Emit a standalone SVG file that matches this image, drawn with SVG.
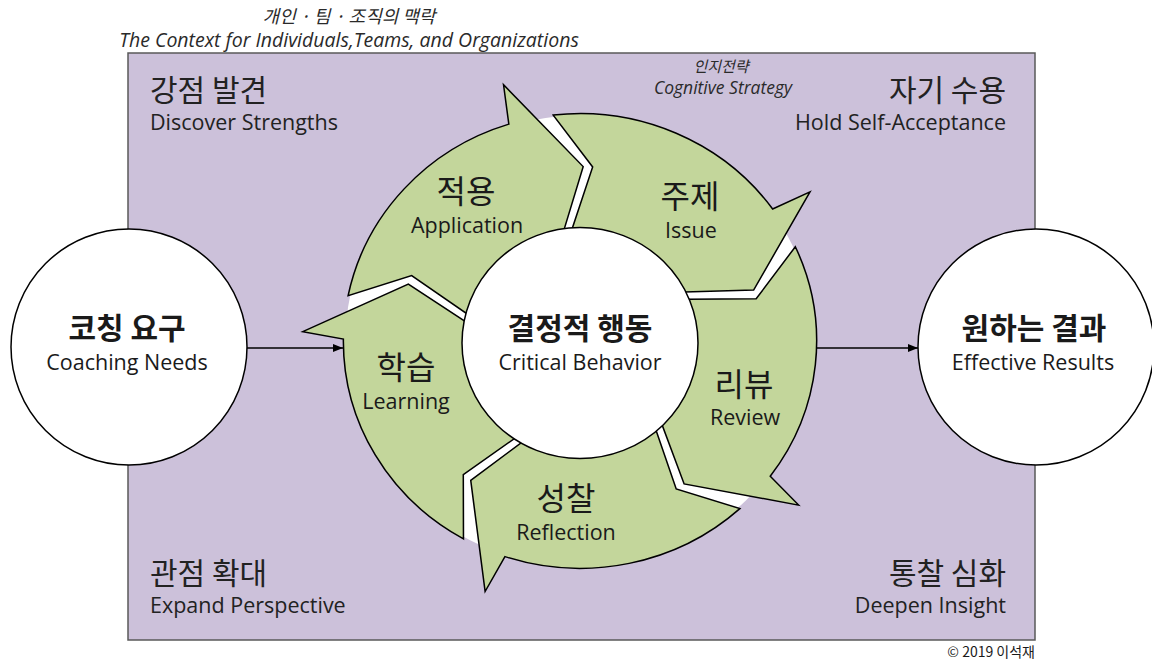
<svg xmlns="http://www.w3.org/2000/svg" width="1152" height="660" viewBox="0 0 1152 660">
<style>
.kr{font-family:"Noto Sans CJK KR",sans-serif;fill:#1a1a1a}
.en{font-family:"Open Sans","Noto Sans",sans-serif;fill:#1a1a1a}
.ring{font-size:32px}
.ringen{font-size:21.5px}
.bold{font-weight:bold}
.corner{font-size:30px;fill:#222}
.corneren{font-size:21.5px;fill:#222}
.arrow{fill:#c3d69b;stroke:#000;stroke-width:1.5;stroke-linejoin:miter}
.node{fill:#fff;stroke:#000;stroke-width:1.5}
.conn{stroke:#000;stroke-width:1.3;fill:none}
.it{font-style:italic;fill:#2a2a2a}
</style>
<defs>
<marker id="ah" viewBox="0 0 10 8" refX="10" refY="4" markerWidth="10" markerHeight="8" markerUnits="userSpaceOnUse" orient="auto">
<path d="M0,0 L10,4 L0,8 Z" fill="#000"/>
</marker>
<path id="arrowShape" d="M -227.34 -46.25 A 232 232 0 0 1 -69.77 -221.26 L -74.97 -261.46 L 3.11 -177.97 L -15.87 -112.89 A 114 114 0 0 0 -110.61 -27.58 L -165.04 -66.68 Z"/>
</defs>

<g id="title">
<text class="kr it" x="349" y="23" font-size="18" text-anchor="middle">개인 · 팀 · 조직의 맥락</text>
<text class="en it" x="349" y="47" font-size="19.5" text-anchor="middle">The Context for Individuals,Teams, and Organizations</text>
</g>

<g id="context">
<rect x="128" y="53" width="907" height="587" fill="#ccc1da" stroke="#595959" stroke-width="1.5"/>
</g>

<g id="strategy">
<text class="kr it" x="721" y="72" font-size="15" text-anchor="middle">인지전략</text>
<text class="en it" x="723" y="94" font-size="17.5" text-anchor="middle">Cognitive Strategy</text>
</g>

<g id="corner-tl">
<text class="kr corner" x="150" y="101">강점 발견</text>
<text class="en corneren" x="150" y="130">Discover Strengths</text>
</g>
<g id="corner-tr">
<text class="kr corner" x="1006" y="101" text-anchor="end">자기 수용</text>
<text class="en corneren" x="1006" y="130" text-anchor="end">Hold Self-Acceptance</text>
</g>
<g id="corner-bl">
<text class="kr corner" x="150" y="584">관점 확대</text>
<text class="en corneren" x="150" y="613">Expand Perspective</text>
</g>
<g id="corner-br">
<text class="kr corner" x="1006" y="584" text-anchor="end">통찰 심화</text>
<text class="en corneren" x="1006" y="613" text-anchor="end">Deepen Insight</text>
</g>

<g id="ring" transform="translate(580,341) scale(1.02,0.98)">
<circle cx="0" cy="0" r="230" fill="#fff"/>
<g id="arrow-application"><use href="#arrowShape" class="arrow"/></g>
<g id="arrow-issue"><use href="#arrowShape" class="arrow" transform="rotate(72)"/></g>
<g id="arrow-review"><use href="#arrowShape" class="arrow" transform="rotate(144)"/></g>
<g id="arrow-reflection"><use href="#arrowShape" class="arrow" transform="rotate(216)"/></g>
<g id="arrow-learning"><use href="#arrowShape" class="arrow" transform="rotate(288)"/></g>
</g>

<g id="label-application">
<text class="kr ring" x="466" y="203" text-anchor="middle">적용</text>
<text class="en ringen" x="467" y="233" text-anchor="middle">Application</text>
</g>
<g id="label-issue">
<text class="kr ring" x="690" y="208" text-anchor="middle">주제</text>
<text class="en ringen" x="691" y="238" text-anchor="middle">Issue</text>
</g>
<g id="label-review">
<text class="kr ring" x="744" y="396" text-anchor="middle">리뷰</text>
<text class="en ringen" x="745" y="425" text-anchor="middle">Review</text>
</g>
<g id="label-reflection">
<text class="kr ring" x="566" y="510" text-anchor="middle">성찰</text>
<text class="en ringen" x="566" y="540" text-anchor="middle">Reflection</text>
</g>
<g id="label-learning">
<text class="kr ring" x="406" y="379" text-anchor="middle">학습</text>
<text class="en ringen" x="406" y="409" text-anchor="middle">Learning</text>
</g>

<g id="node-critical">
<ellipse class="node" cx="580" cy="343" rx="118" ry="115.5"/>
<text class="kr bold" x="580" y="339" font-size="30" text-anchor="middle">결정적 행동</text>
<text class="en" x="580" y="370" font-size="21.5" text-anchor="middle">Critical Behavior</text>
</g>

<g id="node-needs">
<circle class="node" cx="129" cy="347" r="118"/>
<text class="kr bold" x="127" y="339" font-size="30" text-anchor="middle">코칭 요구</text>
<text class="en" x="127" y="370" font-size="21.5" text-anchor="middle">Coaching Needs</text>
</g>

<g id="node-results">
<circle class="node" cx="1036" cy="347" r="118"/>
<text class="kr bold" x="1034" y="339" font-size="30" text-anchor="middle">원하는 결과</text>
<text class="en" x="1033" y="370" font-size="21.5" text-anchor="middle">Effective Results</text>
</g>

<g id="connectors">
<line class="conn" x1="247" y1="348" x2="343" y2="348" marker-end="url(#ah)"/>
<line class="conn" x1="817" y1="348" x2="918" y2="348" marker-end="url(#ah)"/>
</g>

<g id="copyright">
<text class="kr" x="1035" y="657" font-size="14" text-anchor="end" fill="#333">© 2019 이석재</text>
</g>
</svg>
